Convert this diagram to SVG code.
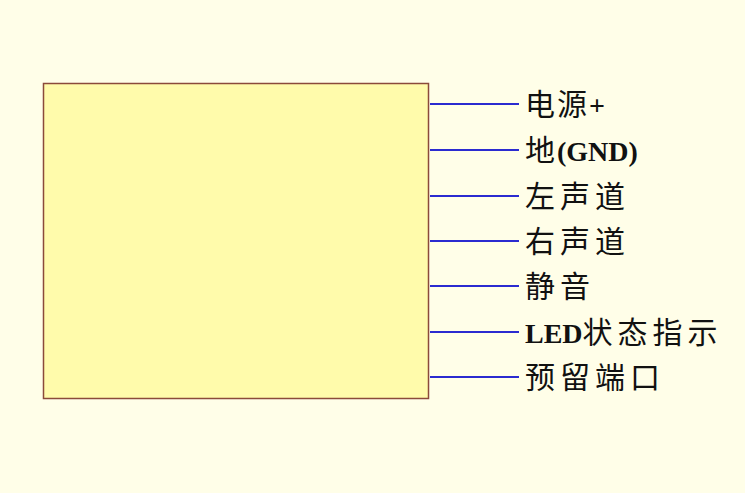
<svg xmlns="http://www.w3.org/2000/svg" width="745" height="493" viewBox="0 0 745 493">
<style>
.pin{stroke:#2b2bd0;stroke-width:2.2;fill:none}
.lbl{font-family:"Liberation Serif","Noto Sans CJK SC",serif;font-size:30px;fill:#111;letter-spacing:5px}
.b{font-weight:bold;font-size:28px;letter-spacing:0}
</style>
<rect x="0" y="0" width="745" height="493" fill="#fffee8"/>
<g id="module">
<rect x="43.5" y="83.5" width="385" height="315" fill="#fffbab" stroke="#8b4a3a" stroke-width="1.5"/>
</g>
<g id="connectors">
<line class="pin" x1="430" y1="104" x2="519" y2="104"/>
<line class="pin" x1="430" y1="150" x2="519" y2="150"/>
<line class="pin" x1="430" y1="196" x2="519" y2="196"/>
<line class="pin" x1="430" y1="241" x2="519" y2="241"/>
<line class="pin" x1="430" y1="286" x2="519" y2="286"/>
<line class="pin" x1="430" y1="332" x2="519" y2="332"/>
<line class="pin" x1="430" y1="377" x2="519" y2="377"/>
</g>
<g id="label-power"><text class="lbl" x="525" y="115"><tspan style="letter-spacing:2px">电源</tspan><tspan class="b">+</tspan></text></g>
<g id="label-gnd"><text class="lbl" x="525" y="161"><tspan style="letter-spacing:2px">地</tspan><tspan class="b">(GND)</tspan></text></g>
<g id="label-left"><text class="lbl" x="525" y="207">左声道</text></g>
<g id="label-right"><text class="lbl" x="525" y="252">右声道</text></g>
<g id="label-mute"><text class="lbl" x="525" y="297">静音</text></g>
<g id="label-led"><text class="lbl" x="525" y="343"><tspan class="b">LED</tspan>状态指示</text></g>
<g id="label-reserved"><text class="lbl" x="525" y="388">预留端口</text></g>
</svg>
